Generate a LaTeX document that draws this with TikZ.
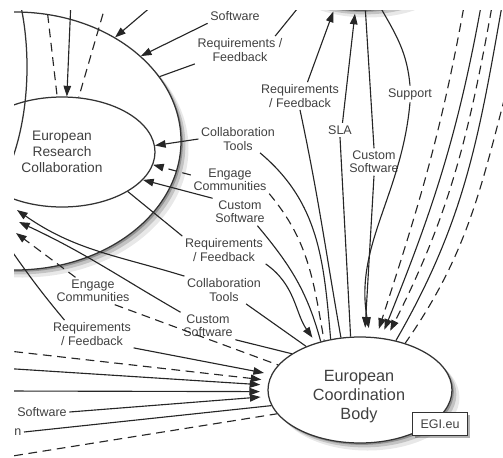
\documentclass[tikz,border=0pt]{standalone}
\usepackage{fontspec}
\setmainfont{Liberation Sans}
\usetikzlibrary{arrows.meta,shapes.geometric,shadows}

\begin{document}
\begin{tikzpicture}[x=0.8pt,y=-0.8pt,
    blob/.style={ellipse,draw=black!80,line width=1pt,fill=white,inner sep=0pt},
    soft/.style={drop shadow={shadow xshift=1.5pt,shadow yshift=-1.5pt,fill=black,opacity=.25},
      drop shadow={shadow xshift=3.5pt,shadow yshift=-3.5pt,fill=black,opacity=.16},
      drop shadow={shadow xshift=6pt,shadow yshift=-6pt,fill=black,opacity=.09}},
    lbl/.style={align=center,inner sep=2pt,text=black!75,font=\fontsize{10}{10.5}\selectfont},
    ln/.style={draw=black!85,line width=0.9pt},
    dsh/.style={dash pattern=on 7pt off 4.5pt},
    arr/.style={-{Triangle[length=8.5pt,width=6pt]}}]
  \useasboundingbox (0,0) rectangle (503,457);
  \clip (14,10) rectangle (503,457);
  \node[blob,soft,minimum width=265.6pt,minimum height=206.4pt] (outer) at (15,141) {};
  \node[blob,minimum width=148.8pt,minimum height=88pt,align=center,
    font=\fontsize{11}{12.8}\selectfont,text=black!75] (erc) at (62,152) {European\\Research\\Collaboration};
  \node[ellipse,draw=black!80,line width=1pt,minimum width=131.2pt,minimum height=257.6pt] (side) at (-55,67) {};
  \node[blob,soft,minimum width=128pt,minimum height=60.8pt] (upper) at (360,-28) {};
  \node[blob,soft,minimum width=147.2pt,minimum height=84.8pt] (ecb) at (360,390) {};
  \node[align=center,font=\fontsize{13}{15.2}\selectfont,text=black!75] (ecbT) at (359,397)
    {European\\Coordination\\Body};
  \node[draw=black!80,line width=1pt,fill=white,minimum width=44pt,minimum height=18.4pt,text=black!75,
    drop shadow={shadow xshift=2pt,shadow yshift=-2pt,fill=black,opacity=.3}] (egi) at (440,424) {EGI.eu};

  \node[lbl] (softA) at (235,16) {Software};
  \node[lbl] (reqA) at (240,50) {Requirements /\\Feedback};
  \node[lbl] (reqB) at (300,96) {Requirements\\/ Feedback};
  \node[lbl] (sla) at (340,130) {SLA};
  \node[lbl] (custA) at (374,162) {Custom\\Software};
  \node[lbl] (support) at (410,94) {Support};
  \node[lbl] (collabA) at (238,139) {Collaboration\\Tools};
  \node[lbl] (engageA) at (230,180) {Engage\\Communities};
  \node[lbl] (custB) at (240,212) {Custom\\Software};
  \node[lbl] (reqC) at (224,250) {Requirements\\/ Feedback};
  \node[lbl] (collabB) at (224,290) {Collaboration\\Tools};
  \node[lbl] (custC) at (208,326) {Custom\\Software};
  \node[lbl] (engageB) at (93,291) {Engage\\Communities};
  \node[lbl] (reqD) at (92,334) {Requirements\\/ Feedback};
  \node[lbl] (softB) at (42,412) {Software};
  \node[lbl,anchor=east] (cut) at (24,432) {n};

  \coordinate (a1) at (71,0);
  \coordinate (a2) at (46,0);
  \coordinate (a3) at (107,0);
  \coordinate (a4) at (159,0);
  \coordinate (a5) at (306,-2);
  \coordinate (r1) at (466,-5);
  \coordinate (r2) at (483,-5);
  \coordinate (r3) at (494,-5);
  \coordinate (r4) at (503,0);
  \coordinate (r5) at (512,70);
  \coordinate (b1) at (17,210);
  \coordinate (b2) at (19,222);
  \coordinate (b3) at (16,233);
  \coordinate (b4) at (4,240);
  \coordinate (e1) at (0,350);
  \coordinate (e2) at (0,368);
  \coordinate (e3) at (0,391);
  \coordinate (e4) at (0,458);

  \begin{scope}[ln]
    \draw[arr] (a1) -- (erc.85);
    \draw[dsh] (a2) -- (erc.95);
    \draw[dsh] (a3) -- (erc.73);
    \draw[arr] (a4) -- (outer.46);
    \draw[arr] (softA.south west) -- (outer.34);
    \draw (reqA.south west) -- (outer.24);
    \draw ([xshift=-8pt]reqA.north east) -- (a5);
    \draw[arr] (collabA.west) -- (erc.4);
    \draw[dsh,arr] ([yshift=4pt]engageA.west) -- (erc.-8);
    \draw[arr] (custB.north west) -- (erc.-19);
    \draw (erc.-31) -- (reqC.north west);

    \draw ([xshift=-14pt]collabA.south east) to[out=-40,in=95] (ecb.120);
    \draw[dsh] (engageA.south east) to[out=-50,in=100] (ecb.126);
    \draw ([xshift=-8pt]custB.south east) to[out=-50,in=105] (ecb.129);
    \draw[arr,shorten >=5pt] (reqC.south east) to[out=-35,in=125] (ecb.133);

    \draw[arr,shorten >=2.5pt] ([xshift=6pt]reqB.north) -- (upper.-125);
    \draw (reqB.south) to[out=-78,in=100] (ecb.110);
    \draw[arr,shorten >=2.5pt] ([xshift=2pt]sla.north) -- (upper.-97);
    \draw (sla.south) -- (ecb.100);
    \draw (upper.-82) -- (custA.north);
    \draw[arr,shorten >=7pt] (custA.south) -- (ecb.85);
    \draw (upper.-60) to[out=-60,in=95] (support.north);
    \draw[arr,shorten >=7pt] (support.south) to[out=-95,in=100] (ecb.79);

    \draw[dsh,arr,shorten >=7pt] (r1) to[out=-100,in=72] (ecb.73);
    \draw[arr,shorten >=7pt] (r2) to[out=-100,in=68] (ecb.68);
    \draw[dsh,arr,shorten >=7pt] (r3) to[out=-100,in=63] (ecb.63);
    \draw (r4) to[out=-100,in=60] (ecb.54);
    \draw[dsh] (r5) to[out=-105,in=55] (ecb.46);

    \draw[arr] (collabB.north west) to[out=163,in=-35] (b1);
    \draw[arr] (custC.north west) to[out=150,in=-25] (b2);
    \draw[dsh,arr] ([xshift=-14pt]engageB.north) -- (b3);
    \draw (b4) to[out=-55,in=130] ([xshift=-22pt]reqD.north);

    \draw ([xshift=-14pt]collabB.south east) -- (ecb.141);
    \draw (custC.south east) -- (ecb.152);
    \draw[dsh] ([xshift=-14pt]engageB.south east) -- (ecb.163);
    \draw[arr,shorten >=6pt] (reqD.south east) -- (ecb.170);
    \draw[dsh,arr,shorten >=6pt] (e1) -- (ecb.174);
    \draw[arr,shorten >=6pt] (e2) -- (ecb.177);
    \draw[arr,shorten >=6pt] (e3) -- (ecb.181);
    \draw[arr,shorten >=6pt] (softB.east) -- (ecb.184);
    \draw (cut.east) -- (ecb.190);
    \draw[dsh] (e4) -- (ecb.196);
  \end{scope}
\end{tikzpicture}
\end{document}
